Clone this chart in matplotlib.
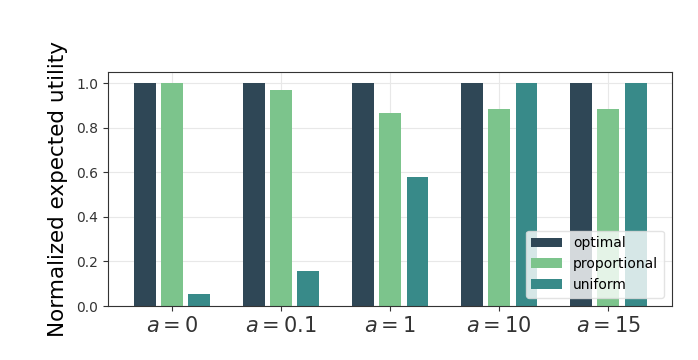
import matplotlib.pyplot as plt
import numpy as np

# Data
labels = ["$a = 0$", "$a = 0.1$", "$a = 1$", "$a = 10$", "$a = 15$"]
optimal = [1.0, 1.0, 1.0, 1.0, 1.0]
proportional = [1.0, 0.967, 0.865, 0.883, 0.883]
uniform = [0.052, 0.156, 0.58, 1.0, 1.0]

colors = ["#2f4756", "#7cc48c", "#388a89"]

x = np.arange(len(labels))
w = 0.2

fig, ax = plt.subplots(figsize=(6.98, 3.6), dpi=100)
ax.bar(x - 0.25, optimal, w, color=colors[0], label="optimal", zorder=2)
ax.bar(x, proportional, w, color=colors[1], label="proportional", zorder=2)
ax.bar(x + 0.25, uniform, w, color=colors[2], label="uniform", zorder=2)

ax.set_xticks(x)
ax.set_xticklabels(labels, fontsize=15)
ax.tick_params(axis="y", labelsize=10, colors="#333333")
ax.tick_params(axis="x", colors="#333333")
ax.set_ylabel("Normalized expected utility", fontsize=15.5, labelpad=6)
ax.grid(True, color="#e8e8e8", zorder=0)
for s in ax.spines.values():
    s.set_color("#333333")

leg = ax.legend(loc="lower right", fontsize=10, framealpha=0.8,
                handlelength=2.2, borderaxespad=0.6)
leg.get_frame().set_edgecolor("#dddddd")

fig.subplots_adjust(left=0.155, right=0.963, top=0.8, bottom=0.15)
fig.savefig("out.png")
